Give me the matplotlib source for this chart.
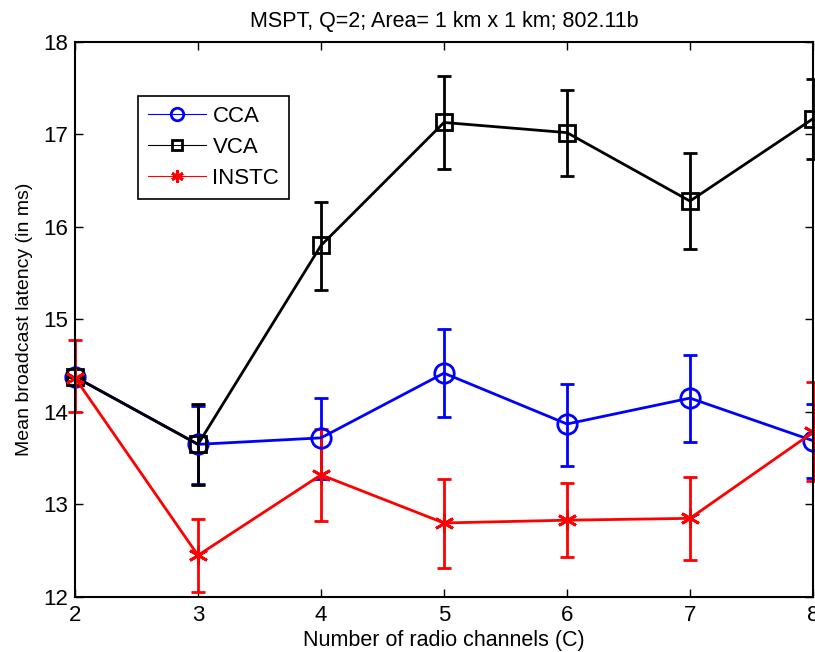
import numpy as np
import matplotlib.pyplot as plt

plt.rcParams['font.family'] = ['Liberation Sans', 'DejaVu Sans']

channels = [2, 3, 4, 5, 6, 7, 8]

# CCA
cca_mean = [14.38, 13.65, 13.72, 14.42, 13.87, 14.15, 13.69]
cca_low = [14.38, 13.22, 13.28, 13.95, 13.42, 13.68, 13.29]
cca_high = [14.38, 14.07, 14.15, 14.90, 14.30, 14.62, 14.09]

# VCA
vca_mean = [14.38, 13.65, 15.80, 17.13, 17.02, 16.28, 17.17]
vca_low = [14.38, 13.21, 15.32, 16.63, 16.55, 15.76, 16.73]
vca_high = [14.38, 14.09, 16.27, 17.63, 17.48, 16.80, 17.60]

# INSTC
instc_mean = [14.37, 12.45, 13.32, 12.80, 12.83, 12.85, 13.78]
instc_low = [14.00, 12.05, 12.82, 12.31, 12.43, 12.40, 13.25]
instc_high = [14.78, 12.84, 13.82, 13.27, 13.23, 13.30, 14.32]

def yerr(mean, low, high):
    mean = np.array(mean)
    return [mean - np.array(low), np.array(high) - mean]

fig = plt.figure(figsize=(8.15, 6.52), dpi=100)
ax = fig.add_axes([0.092, 0.0844, 0.9055, 0.8512])

ax.errorbar(channels, cca_mean, yerr=yerr(cca_mean, cca_low, cca_high),
            color='#0000ff', lw=2, marker='o', ms=14, mfc='none', mew=2,
            capsize=5, capthick=2, elinewidth=2, clip_on=False)
ax.errorbar(channels, vca_mean, yerr=yerr(vca_mean, vca_low, vca_high),
            color='black', lw=2, marker='s', ms=12, mfc='none', mew=2,
            capsize=5, capthick=2, elinewidth=2, clip_on=False)
ax.errorbar(channels, instc_mean, yerr=yerr(instc_mean, instc_low, instc_high),
            color='#ff0000', lw=2, marker=(6, 2, 0), ms=14, mew=2,
            capsize=5, capthick=2, elinewidth=2, clip_on=False)

# legend with thin lines like matlab
h1, = ax.plot([], [], color='#0000ff', lw=0.8, marker='o', ms=9, mfc='none', mew=2)
h2, = ax.plot([], [], color='black', lw=0.8, marker='s', ms=7, mfc='none', mew=2)
h3, = ax.plot([], [], color='#ff0000', lw=0.8, marker=(6, 2, 0), ms=9, mew=2)
leg = ax.legend([h1, h2, h3], ['CCA', 'VCA', 'INSTC'], loc='upper left',
                bbox_to_anchor=(0.0854, 0.9027), borderaxespad=0, fontsize=16,
                fancybox=False, framealpha=1, edgecolor='black',
                handlelength=2.6, handletextpad=0.3, borderpad=0.45,
                labelspacing=0.45)
leg.get_frame().set_linewidth(1.2)

ax.set_xlim(2, 8)
ax.set_ylim(12, 18)
ax.set_xticks(channels)
ax.set_yticks([12, 13, 14, 15, 16, 17, 18])
ax.tick_params(direction='in', top=True, right=True, labelsize=16, length=6, width=1)
ax.tick_params(axis='x', pad=6)
ax.tick_params(axis='y', pad=5)
for s in ax.spines.values():
    s.set_linewidth(1.5)

ax.set_title('MSPT, Q=2; Area= 1 km x 1 km; 802.11b', fontsize=15.5, pad=11)
ax.set_xlabel('Number of radio channels (C)', fontsize=15.5, labelpad=3)
ax.set_ylabel('Mean broadcast latency (in ms)', fontsize=14, labelpad=7)

fig.savefig('out.png', dpi=100)
